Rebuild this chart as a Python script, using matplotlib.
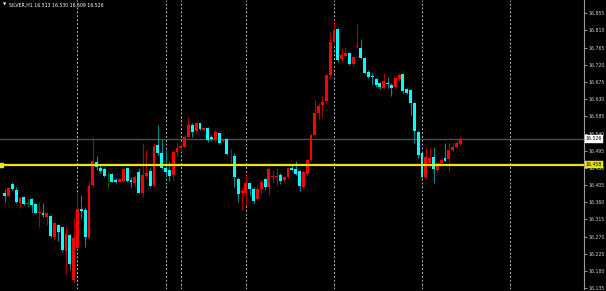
import numpy as np
import matplotlib.pyplot as plt

# SILVER H1 candles (oldest first)
opens = [16.385, 16.376, 16.407, 16.392, 16.359, 16.375, 16.357, 16.368, 16.355, 16.331,
         16.333, 16.322, 16.325, 16.268, 16.300, 16.294, 16.233, 16.274, 16.156, 16.241,
         16.343, 16.340, 16.266, 16.405, 16.466, 16.449, 16.446, 16.431, 16.433, 16.418,
         16.414, 16.416, 16.449, 16.418, 16.410, 16.440, 16.383, 16.430, 16.442, 16.405,
         16.510, 16.488, 16.449, 16.444, 16.431, 16.492, 16.501, 16.505, 16.532, 16.562,
         16.547, 16.567, 16.549, 16.554, 16.530, 16.525, 16.541, 16.521, 16.525, 16.484,
         16.482, 16.421, 16.383, 16.383, 16.410, 16.395, 16.369, 16.394, 16.420, 16.401,
         16.425, 16.425, 16.431, 16.418, 16.425, 16.450, 16.447, 16.443, 16.401, 16.434,
         16.471, 16.536, 16.594, 16.615, 16.626, 16.693, 16.780, 16.813, 16.734, 16.743,
         16.750, 16.721, 16.766, 16.763, 16.738, 16.702, 16.691, 16.682, 16.671, 16.660,
         16.673, 16.667, 16.661, 16.682, 16.696, 16.657, 16.654, 16.620, 16.545, 16.488,
         16.427, 16.462, 16.479, 16.444, 16.462, 16.475, 16.472, 16.497, 16.504, 16.513]
highs = [16.394, 16.400, 16.413, 16.399, 16.375, 16.377, 16.369, 16.370, 16.357, 16.357,
         16.358, 16.334, 16.327, 16.309, 16.302, 16.296, 16.294, 16.277, 16.318, 16.388,
         16.379, 16.348, 16.416, 16.532, 16.482, 16.458, 16.452, 16.440, 16.436, 16.424,
         16.424, 16.450, 16.451, 16.427, 16.431, 16.450, 16.514, 16.497, 16.450, 16.514,
         16.562, 16.526, 16.497, 16.466, 16.497, 16.514, 16.514, 16.536, 16.584, 16.567,
         16.568, 16.568, 16.557, 16.556, 16.536, 16.549, 16.542, 16.528, 16.527, 16.499,
         16.489, 16.425, 16.397, 16.436, 16.414, 16.401, 16.405, 16.418, 16.423, 16.453,
         16.444, 16.449, 16.436, 16.429, 16.453, 16.458, 16.469, 16.444, 16.444, 16.472,
         16.539, 16.628, 16.619, 16.641, 16.696, 16.807, 16.837, 16.815, 16.763, 16.766,
         16.752, 16.741, 16.827, 16.787, 16.741, 16.706, 16.698, 16.685, 16.676, 16.698,
         16.688, 16.671, 16.687, 16.698, 16.698, 16.658, 16.657, 16.622, 16.549, 16.492,
         16.504, 16.502, 16.505, 16.465, 16.476, 16.514, 16.515, 16.515, 16.523, 16.530]
lows = [16.361, 16.374, 16.391, 16.357, 16.344, 16.352, 16.347, 16.331, 16.331, 16.296,
        16.321, 16.300, 16.266, 16.261, 16.259, 16.231, 16.171, 16.183, 16.152, 16.239,
        16.318, 16.244, 16.265, 16.399, 16.444, 16.437, 16.426, 16.397, 16.412, 16.410,
        16.413, 16.414, 16.413, 16.400, 16.399, 16.383, 16.373, 16.424, 16.400, 16.401,
        16.484, 16.446, 16.427, 16.416, 16.418, 16.481, 16.499, 16.504, 16.530, 16.532,
        16.542, 16.549, 16.547, 16.518, 16.521, 16.518, 16.512, 16.518, 16.484, 16.462,
        16.401, 16.361, 16.340, 16.353, 16.379, 16.359, 16.366, 16.385, 16.392, 16.379,
        16.414, 16.405, 16.408, 16.414, 16.423, 16.443, 16.431, 16.390, 16.397, 16.431,
        16.469, 16.535, 16.575, 16.584, 16.619, 16.685, 16.772, 16.728, 16.728, 16.739,
        16.719, 16.717, 16.763, 16.735, 16.696, 16.685, 16.670, 16.662, 16.656, 16.656,
        16.658, 16.638, 16.656, 16.678, 16.645, 16.643, 16.588, 16.515, 16.476, 16.423,
        16.424, 16.449, 16.410, 16.439, 16.458, 16.467, 16.440, 16.494, 16.501, 16.509]
closes = [16.376, 16.397, 16.394, 16.361, 16.372, 16.355, 16.357, 16.353, 16.333, 16.335,
          16.327, 16.331, 16.272, 16.305, 16.283, 16.235, 16.277, 16.198, 16.266, 16.342,
          16.338, 16.268, 16.403, 16.468, 16.453, 16.443, 16.429, 16.431, 16.414, 16.412,
          16.421, 16.447, 16.416, 16.412, 16.427, 16.385, 16.431, 16.436, 16.403, 16.508,
          16.490, 16.449, 16.440, 16.429, 16.492, 16.501, 16.508, 16.532, 16.562, 16.545,
          16.567, 16.552, 16.554, 16.523, 16.525, 16.545, 16.516, 16.525, 16.486, 16.484,
          16.425, 16.381, 16.390, 16.410, 16.394, 16.363, 16.395, 16.414, 16.401, 16.447,
          16.429, 16.429, 16.416, 16.425, 16.450, 16.444, 16.434, 16.403, 16.440, 16.471,
          16.536, 16.594, 16.612, 16.623, 16.693, 16.780, 16.811, 16.732, 16.746, 16.752,
          16.722, 16.739, 16.769, 16.737, 16.699, 16.687, 16.687, 16.667, 16.662, 16.677,
          16.669, 16.658, 16.685, 16.693, 16.652, 16.647, 16.620, 16.547, 16.484, 16.425,
          16.478, 16.475, 16.447, 16.462, 16.471, 16.469, 16.497, 16.504, 16.514, 16.526]

price_ticks = [16.135, 16.180, 16.225, 16.270, 16.315, 16.360, 16.405, 16.450, 16.495,
               16.540, 16.585, 16.630, 16.675, 16.720, 16.765, 16.810, 16.855]
bid = 16.526
level = 16.458
day_breaks = [19, 42, 46, 63, 86, 109, 132]
title = "SILVER,H1 16.513 16.530 16.509 16.526"

o = np.array(opens)
h = np.array(highs)
l = np.array(lows)
c = np.array(closes)
x = np.arange(len(o))

up = c > o
down = c < o
doji = c == o

fig = plt.figure(figsize=(6.06, 2.91), dpi=100, facecolor='black')
ax = fig.add_axes([0, 2 / 291, 584 / 606, 289 / 291])
ax.set_facecolor('black')

for xb in day_breaks:
    ax.axvline(xb, color='#b8b8b8', lw=0.7, ls=(0, (2, 2)), zorder=1)

ax.axhline(bid, color='#505050', lw=1.0, zorder=1)
ax.axhline(level, color='#e8e800', lw=1.6, zorder=4)
ax.plot([-0.9], [level], marker='s', ms=2.5, color='#e8e800', zorder=5)

# wicks
ax.vlines(x[up], l[up], h[up], color='#b00000', lw=0.8, zorder=2)
ax.vlines(x[down], l[down], h[down], color='#008b8b', lw=0.8, zorder=2)
ax.vlines(x[doji], l[doji], h[doji], color='#006400', lw=0.8, zorder=2)

# bodies
w = 0.75
ax.bar(x[up], c[up] - o[up], w, bottom=o[up], color='#ff0000', lw=0, zorder=3)
ax.bar(x[down], o[down] - c[down], w, bottom=c[down], color='#00ffff', lw=0, zorder=3)
ax.bar(x[doji], 0.0015, w, bottom=o[doji] - 0.00075, color='#008000', lw=0, zorder=3)

ax.set_xlim(-1.23, 151.3)
ax.set_ylim(16.133, 16.8895)

for s in ['top', 'left', 'bottom']:
    ax.spines[s].set_visible(False)
ax.spines['right'].set_color('#9a9a9a')
ax.spines['right'].set_linewidth(0.8)
ax.set_xticks([])
ax.yaxis.tick_right()
ax.set_yticks(price_ticks)
ax.set_yticklabels([f"{t:.3f}" for t in price_ticks])
ax.tick_params(axis='y', colors='#d0d0d0', labelsize=3.3, length=2, width=0.5, pad=1.5)

trans = ax.get_yaxis_transform()
ax.text(1.003, bid, f"{bid:.3f}", transform=trans, fontsize=3.3, color='black',
        va='center', ha='left', clip_on=False, zorder=6,
        bbox=dict(boxstyle='square,pad=0.25', fc='white', ec='white', lw=0.3))
ax.text(1.003, level, f"{level:.3f}", transform=trans, fontsize=3.3, color='black',
        va='center', ha='left', clip_on=False, zorder=6,
        bbox=dict(boxstyle='square,pad=0.25', fc='#e8e800', ec='#e8e800', lw=0.3))

fig.text(3 / 606, 1 - 5 / 291, "\u25bc", fontsize=3, color='white', va='center', ha='left')
fig.text(9 / 606, 1 - 5 / 291, title, fontsize=3.3, color='white', va='center', ha='left')

fig.savefig('out.png', dpi=100, facecolor='black')
